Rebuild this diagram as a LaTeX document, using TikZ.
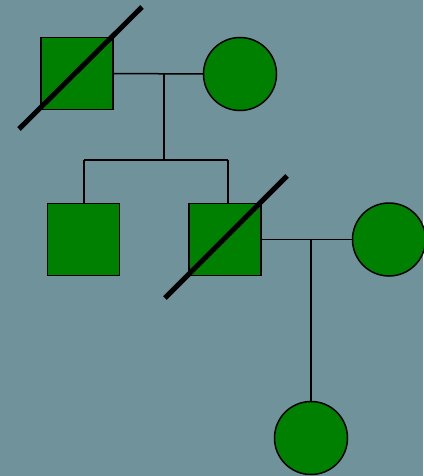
\documentclass[tikz,border=0pt]{standalone}
\definecolor{bgcol}{RGB}{112,146,155}
\definecolor{fillgreen}{RGB}{0,128,0}
\begin{document}
\begin{tikzpicture}[x=1pt,y=-1pt,
  male/.style={draw=black,fill=fillgreen,line width=1.5pt,minimum size=72pt,inner sep=0pt,outer sep=0pt,rectangle},
  female/.style={draw=black,fill=fillgreen,line width=1.5pt,minimum size=73pt,inner sep=0pt,outer sep=0pt,circle},
  link/.style={draw=black,line width=1.5pt},
  dead/.style={draw=black,line width=5pt}]
\fill[bgcol] (0,0) rectangle (423,476);
\useasboundingbox (0,0) rectangle (423,476);
\node[male] (s1) at (77,73.5) {};
\node[female] (c1) at (240,74) {};
\node[male] (s2) at (83.5,239.5) {};
\node[male] (s3) at (225,239.5) {};
\node[female] (c2) at (389,239.5) {};
\node[female] (c3) at (311,438) {};
\coordinate (m1) at (164,74);
\coordinate (sib) at (164,160);
\coordinate (sl) at (84,160);
\coordinate (sr) at (228,160);
\coordinate (m2) at (311,239.5);
\draw[link] (s1.east) -- (c1.west);
\draw[link] (m1) -- (sib);
\draw[link] (sl) -- (sr);
\draw[link] (sl) -- (sl |- s2.north);
\draw[link] (sr) -- (sr |- s3.north);
\draw[link] (s3.east) -- (c2.west);
\draw[link] (m2) -- (c3.north);
\coordinate (d1a) at (19,129);
\coordinate (d1b) at (142,7);
\coordinate (d3a) at (165,298);
\coordinate (d3b) at (287,176);
\draw[dead] (d1a) -- (d1b);
\draw[dead] (d3a) -- (d3b);
\end{tikzpicture}
\end{document}
